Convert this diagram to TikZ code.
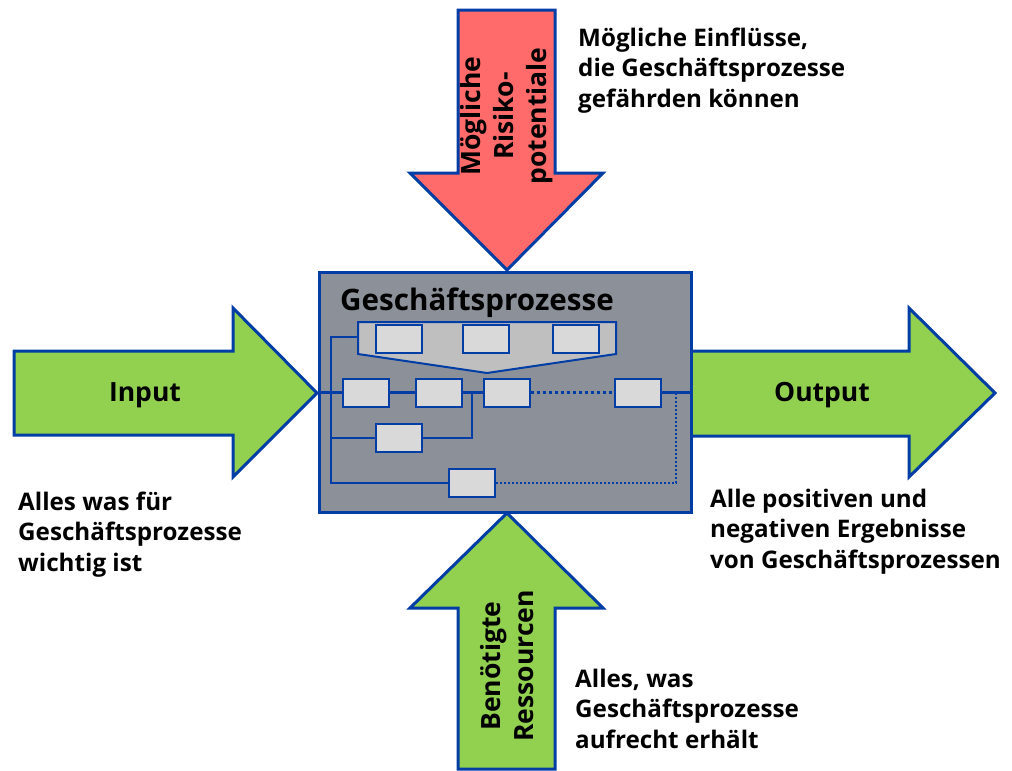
\documentclass[tikz,border=0pt]{standalone}
\usepackage{fontspec}
\setmainfont{Open Sans}
\definecolor{bordblue}{HTML}{003DA5}
\definecolor{arrgreen}{HTML}{92D050}
\definecolor{arrred}{HTML}{FF6B6B}
\definecolor{boxgray}{HTML}{8C9099}
\definecolor{trapgray}{HTML}{BFBFBF}
\definecolor{cellgray}{HTML}{D9D9D9}
\tikzset{
  bigarrow/.style={draw=bordblue, line width=3pt, line join=miter},
  cell/.style={draw=bordblue, line width=2pt, fill=cellgray, minimum width=46pt, minimum height=28pt, inner sep=0pt},
  mainln/.style={draw=bordblue, line width=2.6pt},
  thinln/.style={draw=bordblue, line width=2pt},
  dotmain/.style={draw=bordblue, line width=3pt, dash pattern=on 3pt off 3pt},
  dotthin/.style={draw=bordblue, line width=2pt, dash pattern=on 2pt off 2pt},
  sidetext/.style={font=\bfseries\fontsize{24.2}{30.2}\selectfont, align=left, inner sep=0pt},
  arrtext/.style={font=\bfseries\fontsize{26.5}{33}\selectfont, align=center, inner sep=0pt},
}
\begin{document}
\begin{tikzpicture}[x=1pt, y=-1pt]
\useasboundingbox (0,0) rectangle (1012,771);
% arrows
\draw[bigarrow, fill=arrred] (458,10) -- (555,10) -- (555,173) -- (603,173) -- (507,270) -- (410,173) -- (458,173) -- cycle;
\draw[bigarrow, fill=arrgreen] (507,513) -- (603,608) -- (555,608) -- (555,769) -- (458,769) -- (458,608) -- (410,608) -- cycle;
\draw[bigarrow, fill=arrgreen] (14,351) -- (233,351) -- (233,308) -- (317,393) -- (233,477) -- (233,435) -- (14,435) -- cycle;
\draw[bigarrow, fill=arrgreen] (691,351) -- (909,351) -- (909,308) -- (995,393) -- (909,477) -- (909,436) -- (691,436) -- cycle;
% main box
\draw[draw=bordblue, line width=3pt, fill=boxgray] (319,272) rectangle (691,512);
\node[anchor=base west, inner sep=0pt, font=\bfseries\fontsize{29.6}{34}\selectfont] (title) at (340,310) {Geschäftsprozesse};
% trapezoid
\draw[thinln, fill=trapgray] (358,322) -- (616,322) -- (616,354) -- (487,373) -- (358,354) -- cycle;
\coordinate (trapL) at (358,337);
% cells
\node[cell] (t1) at (399,339) {};
\node[cell] (t2) at (485.5,339) {};
\node[cell] (t3) at (576,339) {};
\node[cell] (A) at (365.5,392.5) {};
\node[cell] (B) at (439,392.5) {};
\node[cell] (C) at (506.5,392.5) {};
\node[cell] (D) at (638,392.5) {};
\node[cell] (E) at (398.5,437.5) {};
\node[cell] (F) at (472,483) {};
% connectors
\coordinate (inL) at (319,392.5);
\coordinate (outR) at (691,392.5);
\coordinate (vTop) at (331,337);
\coordinate (vMid) at (331,437.5);
\coordinate (vBot) at (331,483);
\coordinate (eR) at (472,437.5);
\coordinate (eUp) at (472,392.5);
\coordinate (fR) at (676,483);
\coordinate (fUp) at (676,392.5);
\draw[mainln] (inL) -- (A.west);
\draw[mainln] (A.east) -- (B.west);
\draw[mainln] (B.east) -- (C.west);
\draw[dotmain] (C.east) -- (D.west);
\draw[mainln] (D.east) -- (outR);
\draw[thinln] (trapL) -- (vTop) -- (vBot) -- (F.west);
\draw[thinln] (vMid) -- (E.west);
\draw[thinln] (E.east) -- (eR) -- (eUp);
\draw[dotthin] (F.east) -- (fR) -- (fUp);
% arrow texts
\node[arrtext, rotate=90] (risk) at (507,116) {Mögliche\\Risiko-\\potentiale};
\node[arrtext, rotate=90] (res) at (507,666) {Benötigte\\Ressourcen};
\node[arrtext] (inp) at (145,395) {Input};
\node[arrtext] (outp) at (822,395) {Output};
% side texts (anchor = baseline of last line)
\node[sidetext, anchor=base west] (t_top) at (578,107) {Mögliche Einflüsse,\\die Geschäftsprozesse\\gefährden können};
\node[sidetext, anchor=base west] (t_left) at (18,571) {Alles was für\\Geschäftsprozesse\\wichtig ist};
\node[sidetext, anchor=base west] (t_right) at (710,568) {Alle positiven und\\negativen Ergebnisse\\von Geschäftsprozessen};
\node[sidetext, anchor=base west] (t_bot) at (575,748) {Alles, was\\Geschäftsprozesse\\aufrecht erhält};
\end{tikzpicture}
\end{document}
